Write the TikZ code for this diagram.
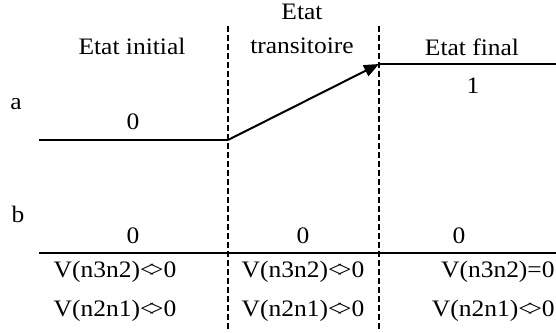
\documentclass[tikz,border=0pt]{standalone}
\usepackage{fontspec}
\setmainfont{Liberation Serif}[FakeStretch=1.08]
\usetikzlibrary{arrows.meta}
\newcommand{\diffz}{<\kern-0.22em>}

\begin{document}
\begin{tikzpicture}[
    x=0.5pt, y=-0.5pt,
    lbl/.style={anchor=base, inner sep=0pt, font=\fontsize{11.8}{14}\selectfont},
    sig/.style={line width=1pt, color=black},
    sep/.style={dash pattern=on 3pt off 1.5pt, line width=0.6pt},
    arr/.style={-{Triangle[length=7.5pt, width=6pt]}, sig}
]
\useasboundingbox (0,0) rectangle (556,332);

% state separators
\coordinate (s1top) at (228,26);
\coordinate (s1bot) at (228,332);
\coordinate (s2top) at (379,26);
\coordinate (s2bot) at (379,332);
\draw[sep] (s1top) -- (s1bot);
\draw[sep] (s2top) -- (s2bot);

% headings
\node[lbl] (initial) at (132,54) {Etat initial};
\node[lbl] (trans1) at (302,19) {Etat};
\node[lbl] (trans2) at (302,53) {transitoire};
\node[lbl] (final) at (472,55) {Etat final};

% signal a
\node[lbl] (la) at (16,109) {a};
\node[lbl] (a0) at (133,129) {0};
\node[lbl] (a1) at (473,93) {1};
\coordinate (astart) at (39,140);
\coordinate (akink) at (228,140);
\coordinate (atop) at (379,64);
\coordinate (aend) at (556,64);
\draw[sig] (astart) -- (akink);
\draw[arr] (akink) -- (atop);
\draw[sig] (atop) -- (aend);

% signal b
\node[lbl] (lb) at (18,222) {b};
\node[lbl] (b0i) at (133,243) {0};
\node[lbl] (b0t) at (303,243) {0};
\node[lbl] (b0f) at (459,243) {0};
\coordinate (bstart) at (39,253);
\coordinate (bend) at (556,253);
\draw[sig] (bstart) -- (bend);

% conditions
\node[lbl] (ci1) at (115,277) {V(n3n2)\diffz0};
\node[lbl] (ci2) at (115,316) {V(n2n1)\diffz0};
\node[lbl] (ct1) at (303,277) {V(n3n2)\diffz0};
\node[lbl] (ct2) at (303,316) {V(n2n1)\diffz0};
\node[lbl, anchor=base east] (cf1) at (555,277) {V(n3n2)=0};
\node[lbl, anchor=base east] (cf2) at (555,316) {V(n2n1)\diffz0};

\end{tikzpicture}
\end{document}
